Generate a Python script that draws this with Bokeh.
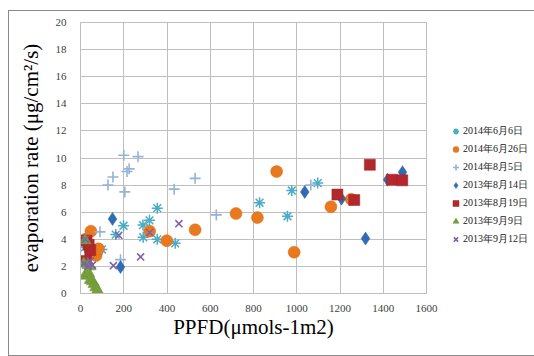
from bokeh.plotting import figure
from bokeh.layouts import row
from bokeh.models import Legend, LegendItem, FixedTicker, Range1d
from bokeh.embed import file_html
from bokeh.resources import INLINE

# ---- data ----
series_names = ["2014年6月6日", "2014年6月26日", "2014年8月5日",
                "2013年8月14日", "2013年8月19日", "2013年9月9日", "2013年9月12日"]

s1_x = [20, 30, 99, 163, 199, 289, 290, 319, 355, 355, 438, 828, 957, 977, 1097]
s1_y = [3.4, 3.9, 3.25, 4.35, 5.0, 5.05, 4.15, 5.4, 6.3, 4.0, 3.7, 6.7, 5.7, 7.6, 8.15]

s2_x = [22, 48, 72, 83, 320, 399, 530, 719, 818, 907, 988, 1158, 1252]
s2_y = [4.0, 4.6, 2.8, 3.3, 4.6, 3.9, 4.7, 5.9, 5.6, 9.0, 3.05, 6.4, 6.95]

s3_x = [90, 185, 127, 150, 200, 266, 215, 225, 205, 433, 530, 628, 1065]
s3_y = [4.55, 2.5, 8.0, 8.6, 10.2, 10.1, 9.0, 9.2, 7.5, 7.7, 8.5, 5.8, 8.0]

s4_x = [148, 185, 1037, 1207, 1318, 1420, 1489]
s4_y = [5.5, 1.95, 7.5, 7.0, 4.05, 8.4, 8.95]

s5_x = [28, 38, 45, 25, 1188, 1266, 1338, 1440, 1488]
s5_y = [3.9, 3.6, 3.2, 2.4, 7.3, 6.9, 9.5, 8.4, 8.35]

s6_x = [22, 15, 35, 45, 20, 38, 45, 55, 62, 70, 78]
s6_y = [3.9, 2.2, 2.1, 2.0, 1.3, 1.5, 1.0, 0.9, 0.7, 0.45, 0.25]

s7_x = [15, 22, 35, 45, 55, 152, 177, 278, 320, 455]
s7_y = [2.2, 4.0, 2.0, 2.4, 2.1, 2.05, 4.3, 2.7, 4.5, 5.15]

x_ticks = [0, 200, 400, 600, 800, 1000, 1200, 1400, 1600]
y_ticks = [0, 2, 4, 6, 8, 10, 12, 14, 16, 18, 20]

x_title = "PPFD(μmols-1m2)"
y_title = "evaporation rate (μg/cm²/s)"

SERIF = "Liberation Serif"
GRID = "#bfbfbf"
EDGE = "#8a8a8a"

styles = [
    dict(marker="asterisk", size=11, line_color="#4bacc6", line_width=1.5),
    dict(marker="circle", size=12, fill_color="#e8791f", line_color="#d96d15", line_width=0.5),
    dict(marker="cross", size=11, line_color="#95b3d7", line_width=1.6),
    dict(marker="diamond", size=13, fill_color="#2f6cb5", line_color="#2a62a6", line_width=0.5),
    dict(marker="square", size=11, fill_color="#b3282d", line_color="#a02226", line_width=0.5),
    dict(marker="triangle", size=12, fill_color="#77a03b", line_color="#6a9233", line_width=0.5),
    dict(marker="x", size=10, line_color="#7f60a8", line_width=1.6),
]
xs = [s1_x, s2_x, s3_x, s4_x, s5_x, s6_x, s7_x]
ys = [s1_y, s2_y, s3_y, s4_y, s5_y, s6_y, s7_y]

# ---- main plot ----
p = figure(width=440, height=356, output_backend="svg", toolbar_location=None,
           x_range=Range1d(0, 1600), y_range=Range1d(0, 20),
           min_border_left=80, min_border_right=14, min_border_top=22,
           min_border_bottom=63)
p.background_fill_color = "white"
p.border_fill_alpha = 0
p.outline_line_color = GRID

for ax in (p.xaxis[0], p.yaxis[0]):
    ax.axis_line_color = GRID
    ax.major_tick_line_color = None
    ax.minor_tick_line_color = None
    ax.major_tick_out = 0
    ax.major_tick_in = 0
    ax.major_label_text_font = SERIF
    ax.major_label_text_font_size = "11px"
    ax.major_label_text_color = "#404040"
    ax.axis_label_text_font = SERIF
    ax.axis_label_text_font_size = "21px"
    ax.axis_label_text_font_style = "normal"
    ax.axis_label_text_color = "#000000"

p.xaxis.ticker = FixedTicker(ticks=x_ticks)
p.yaxis.ticker = FixedTicker(ticks=y_ticks)
p.xaxis.axis_label = x_title
p.yaxis.axis_label = y_title
p.xaxis.major_label_standoff = 11
p.xaxis.axis_label_standoff = 0
p.yaxis.major_label_standoff = 14
p.yaxis.axis_label_standoff = 10
p.xgrid.grid_line_color = GRID
p.ygrid.grid_line_color = GRID

for x, y, st in zip(xs, ys, styles):
    p.scatter(x, y, **st)

# ---- legend panel: same series, drawn outside its visible range ----
q = figure(width=94, height=356, output_backend="svg", toolbar_location=None,
           x_range=Range1d(-3000, -2000), y_range=Range1d(0, 20),
           min_border_left=0, min_border_right=0, min_border_top=0,
           min_border_bottom=0)
q.axis.visible = False
q.grid.visible = False
q.outline_line_color = None
q.background_fill_alpha = 0
q.border_fill_alpha = 0

items = []
for name, x, y, st in zip(series_names, xs, ys, styles):
    r = q.scatter(x, y, **st)
    items.append(LegendItem(label=name, renderers=[r]))

legend = Legend(items=items, location=(8, 45), orientation="vertical",
                glyph_width=15, glyph_height=18, spacing=0,
                label_standoff=0, padding=0, margin=0,
                border_line_color=None, background_fill_alpha=0,
                label_text_font=SERIF, label_text_font_size="10px",
                label_text_color="#202020")
q.add_layout(legend, "center")

grad = f"linear-gradient({EDGE}, {EDGE})"
layout = row(p, q, styles={
    "background-color": "white",
    "background-image": f"{grad}, {grad}, {grad}",
    "background-position": "8px 10px, 8px 10px, 8px 355px",
    "background-size": "1px 346px, 526px 1px, 526px 1px",
    "background-repeat": "no-repeat",
})

open("out.html", "w").write(file_html(layout, INLINE))
